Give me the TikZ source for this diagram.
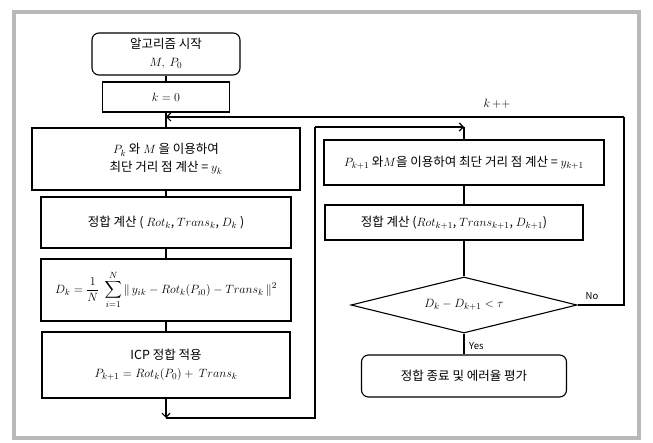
\documentclass[tikz,border=0pt]{standalone}
\usepackage{fontspec}
\usepackage{amsmath}
\newfontfamily\kr{Noto Sans CJK KR}
\usetikzlibrary{shapes.geometric,arrows.meta}
\begin{document}
\begin{tikzpicture}[x=1pt,y=-1pt,
  box/.style={draw, line width=1.1pt, inner sep=2pt, align=center,
    font=\kr\fontsize{12.5}{18}\selectfont},
  rbox/.style={box, rounded corners=7pt},
  conn/.style={line width=1.1pt},
  arr/.style={conn, -{Straight Barb[length=4pt,width=8pt,line width=1.2pt]}},
  lbl/.style={font=\kr\fontsize{9.5}{10}\selectfont, inner sep=1pt}]
\useasboundingbox (0,0) rectangle (653,443);
\draw[gray!55, line width=4pt] (14,12) rectangle (639,438);
% left column
\node[rbox, minimum width=148pt, minimum height=42pt] (start) at (166,54) {알고리즘 시작\\$M,\ P_0$};
\node[box, minimum width=127pt, minimum height=30pt] (k0) at (166,97) {$k = 0$};
\node[box, minimum width=268pt, minimum height=62pt] (b1) at (166,159) {$P_k$ 와 $M$ 을 이용하여\\최단 거리 점 계산 = $y_k$};
\node[box, minimum width=250pt, minimum height=51pt] (b2) at (166,222.5) {정합 계산 ( $Rot_k$, $Trans_k$, $D_k$ )};
\node[box, minimum width=250pt, minimum height=62pt] (b3) at (166,290) {$D_k = \dfrac{1}{N}\;\displaystyle\sum_{i=1}^{N} \| \, y_{ik} - Rot_k(P_{i0}) - Trans_k \, \|^2$};
\node[box, minimum width=248pt, minimum height=66pt] (b4) at (166,365) {ICP 정합 적용\\$P_{k+1} = Rot_k(P_0) + \ Trans_k$};
% right column
\node[box, minimum width=280pt, minimum height=45pt, inner sep=1pt] (r1) at (464,162.5) {$P_{k+1}$ 와$M$을 이용하여 최단 거리 점 계산 = $y_{k+1}$};
\node[box, minimum width=258pt, minimum height=35pt] (r2) at (454,222.5) {정합 계산 ($Rot_{k+1}$, $Trans_{k+1}$, $D_{k+1}$)};
\node[box, shape=diamond, aspect=4, inner sep=0pt, minimum width=226pt, minimum height=56pt] (dia) at (464,305) {$D_k - D_{k+1} < \tau$};
\node[rbox, minimum width=205pt, minimum height=42pt] (fin) at (464,376) {정합 종료 및 에러율 평가};
% coordinates
\coordinate (lb) at (166,418);
\coordinate (bend1) at (315,418);
\coordinate (bend2) at (315,127);
\coordinate (top2) at (464,127);
\coordinate (noR) at (624,305);
\coordinate (noT) at (624,117);
\coordinate (join) at (166,117);
% connectors
\draw[conn] (start) -- (k0);
\draw[conn] (k0) -- (b1);
\draw[conn] (b1) -- (b2);
\draw[conn] (b2) -- (b3);
\draw[conn] (b3) -- (b4);
\draw[arr] (b4) -- (lb);
\draw[conn] (lb) -- (bend1) -- (bend2);
\draw[arr] (bend2) -- (top2);
\draw[conn] (top2) -- (r1.north);
\draw[conn] (r1.south) -- (r1.south |- r2.north);
\draw[conn] (r2.south -| dia.north) -- (dia.north);
\draw[conn] (dia.south) -- (fin.north);
\draw[conn] (dia.east) -- (noR) -- (noT);
\draw[arr] (noT) -- (join);
% labels
\node[font=\fontsize{12}{13}\selectfont] (kpp) at (497,104) {$k \, {+}{+}$};
\node[lbl] (no) at (592,296) {No};
\node[lbl, anchor=west] (yes) at (468,346) {Yes};
\end{tikzpicture}
\end{document}
